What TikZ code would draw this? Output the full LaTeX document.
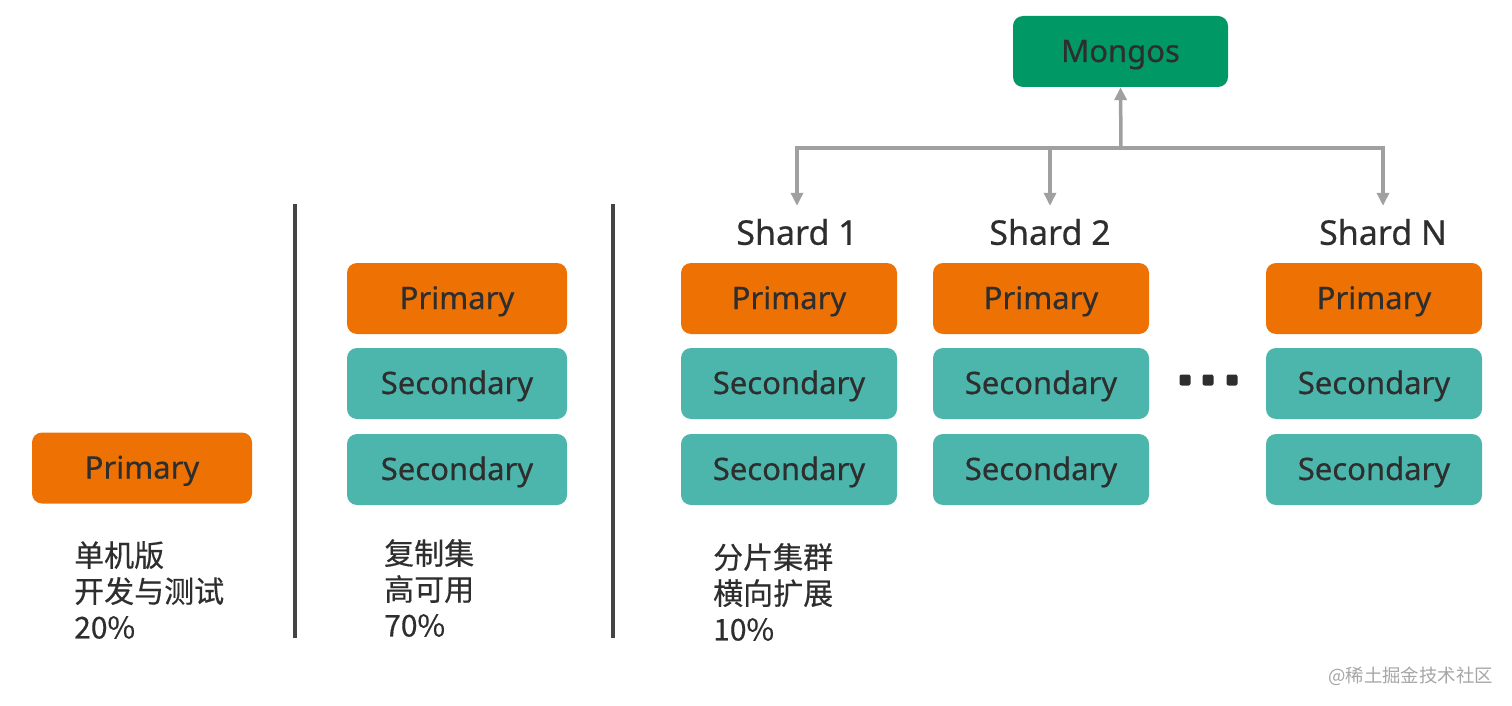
\documentclass[tikz,border=0pt]{standalone}
\usepackage{fontspec}
\setmainfont{Noto Sans}[FakeBold=0.5]
\newfontfamily\cjk{Noto Sans CJK SC}[FakeBold=0.4]
\newfontfamily\cjkwm{Noto Sans CJK SC}
\usetikzlibrary{arrows.meta}
\definecolor{orangebox}{HTML}{EE7203}
\definecolor{tealbox}{HTML}{4DB6AC}
\definecolor{greenbox}{HTML}{009966}
\definecolor{txt}{HTML}{2E2E2E}
\definecolor{conncol}{HTML}{A0A0A0}
\definecolor{sepcol}{HTML}{444444}
\tikzset{
  box/.style={rounded corners=10pt, minimum height=71pt, inner sep=0pt, text=txt,
    font=\fontsize{31}{36}\selectfont, text height=26pt, text depth=5pt},
  prim/.style={box, fill=orangebox, minimum width=220pt},
  sec/.style={box, fill=tealbox, minimum width=220pt},
  sprim/.style={box, fill=orangebox, minimum width=216pt},
  ssec/.style={box, fill=tealbox, minimum width=216pt},
  shardlbl/.style={text=txt, font=\fontsize{34}{40}\selectfont, inner sep=0pt, minimum height=52pt},
  desc/.style={text=txt, font=\cjk\fontsize{30}{36}\selectfont, align=left, inner sep=0pt, anchor=north west},
  conn/.style={draw=conncol, line width=3.5pt, -{Triangle[width=12pt,length=13pt]}},
  sep/.style={draw=sepcol, line width=4pt},
  dotbox/.style={fill=txt, rounded corners=2pt, minimum size=11pt, inner sep=0pt},
}
\begin{document}
\begin{tikzpicture}[x=1pt,y=-1pt]
\useasboundingbox[fill=white] (0,0) rectangle (1512,706);

% single
\node[prim] (p0) at (142,468) {Primary};
\node[desc] (d0) at (74,541) {单机版\\开发与测试\\20\%};

% separators
\coordinate (sepAt) at (295,204);
\coordinate (sepAb) at (295,638);
\coordinate (sepBt) at (613,204);
\coordinate (sepBb) at (613,638);
\draw[sep] (sepAt) -- (sepAb);
\draw[sep] (sepBt) -- (sepBb);

% replica set
\node[prim] (rp) at (457,298.5) {Primary};
\node[sec] (rs1) at (457,383.5) {Secondary};
\node[sec] (rs2) at (457,469.5) {Secondary};
\node[desc] (d1) at (384,539) {复制集\\高可用\\70\%};

% shards
\node[sprim] (ap) at (789,298.5) {Primary};
\node[ssec] (as1) at (789,383.5) {Secondary};
\node[ssec] (as2) at (789,469.5) {Secondary};
\node[sprim] (bp) at (1041,298.5) {Primary};
\node[ssec] (bs1) at (1041,383.5) {Secondary};
\node[ssec] (bs2) at (1041,469.5) {Secondary};
\node[sprim] (np) at (1374,298.5) {Primary};
\node[ssec] (ns1) at (1374,383.5) {Secondary};
\node[ssec] (ns2) at (1374,469.5) {Secondary};
\node[desc] (d2) at (713,543) {分片集群\\横向扩展\\10\%};

\node[shardlbl] (l1) at (797,232) {Shard 1};
\node[shardlbl] (l2) at (1050,232) {Shard 2};
\node[shardlbl] (ln) at (1383,232) {Shard N};

% dots
\node[dotbox] (dt1) at (1185,380) {};
\node[dotbox] (dt2) at (1208,380) {};
\node[dotbox] (dt3) at (1232,380) {};

% mongos
\node[box, fill=greenbox, minimum width=215pt] (mg) at (1120.5,51.5) {Mongos};

\coordinate (jn) at (1121,148);
\draw[conn] (jn) -- (mg.south);
\draw[conn] (jn) -| (l1.north);
\draw[conn] (jn) -| (l2.north);
\draw[conn] (jn) -| (ln.north);

% watermark
\node[font=\cjkwm\fontsize{18.4}{22}\selectfont, text=black!35, anchor=east, inner sep=0pt] (wm) at (1493,676) {@稀土掘金技术社区};
\end{tikzpicture}
\end{document}
